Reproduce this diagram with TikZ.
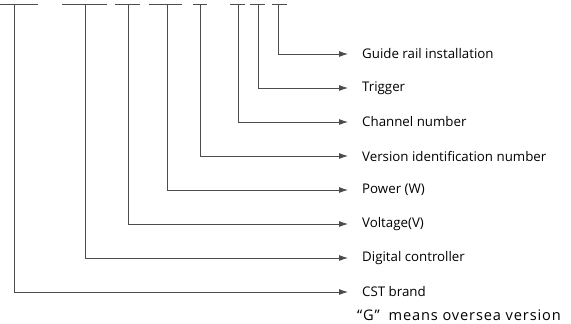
\documentclass[tikz,border=0pt]{standalone}
\usepackage{fontspec}
\setmainfont{Open Sans}
\usetikzlibrary{arrows.meta, positioning}
\tikzset{
  bar/.style ={draw=black!70, line width=0.8pt},
  lead/.style={draw=black!70, line width=0.8pt, -{Latex[length=9pt, width=6pt]}},
  lbl/.style ={anchor=west, inner xsep=14pt, inner ysep=1pt, font=\fontsize{13.3}{15}\selectfont},
  note/.style={anchor=base west, inner sep=0pt, font=\fontsize{14.6}{16}\selectfont\addfontfeatures{LetterSpace=6}},
}

\begin{document}
\begin{tikzpicture}[x=1pt, y=-1pt]
  \useasboundingbox (0,0) rectangle (571,324);
  % code positions
  \coordinate (c1) at (14,4);
  \coordinate (c2) at (85,4);
  \coordinate (c3) at (128,4);
  \coordinate (c4) at (167,4);
  \coordinate (c5) at (200,4);
  \coordinate (c6) at (238,4);
  \coordinate (c7) at (258,4);
  \coordinate (c8) at (278,4);
  \draw[bar] (0,4) -- (38,4);
  \draw[bar] (62,4) -- (107,4);
  \draw[bar] (115,4) -- (140,4);
  \draw[bar] (149,4) -- (182,4);
  \draw[bar] (193,4) -- (207,4);
  \draw[bar] (230,4) -- (245,4);
  \draw[bar] (250,4) -- (265,4);
  \draw[bar] (272,4) -- (287,4);
  % labels
  \node[lbl] (guide) at (348,54)  {Guide rail installation};
  \node[lbl] (trig)  at (348,88)  {Trigger};
  \node[lbl] (chan)  at (348,122) {Channel number};
  \node[lbl] (ver)   at (348,156) {Version identification number};
  \node[lbl] (pow)   at (348,190) {Power (W)};
  \node[lbl] (volt)  at (348,224) {Voltage(V)};
  \node[lbl] (dig)   at (348,258) {Digital controller};
  \node[lbl] (brand) at (348,292) {CST brand};
  \node[note] (osv)  at (357,320) {“G”\hspace{0.6em}means oversea version};
  % leads
  \draw[lead] (c8) |- (guide);
  \draw[lead] (c7) |- (trig);
  \draw[lead] (c6) |- (chan);
  \draw[lead] (c5) |- (ver);
  \draw[lead] (c4) |- (pow);
  \draw[lead] (c3) |- (volt);
  \draw[lead] (c2) |- (dig);
  \draw[lead] (c1) |- (brand);
\end{tikzpicture}
\end{document}
